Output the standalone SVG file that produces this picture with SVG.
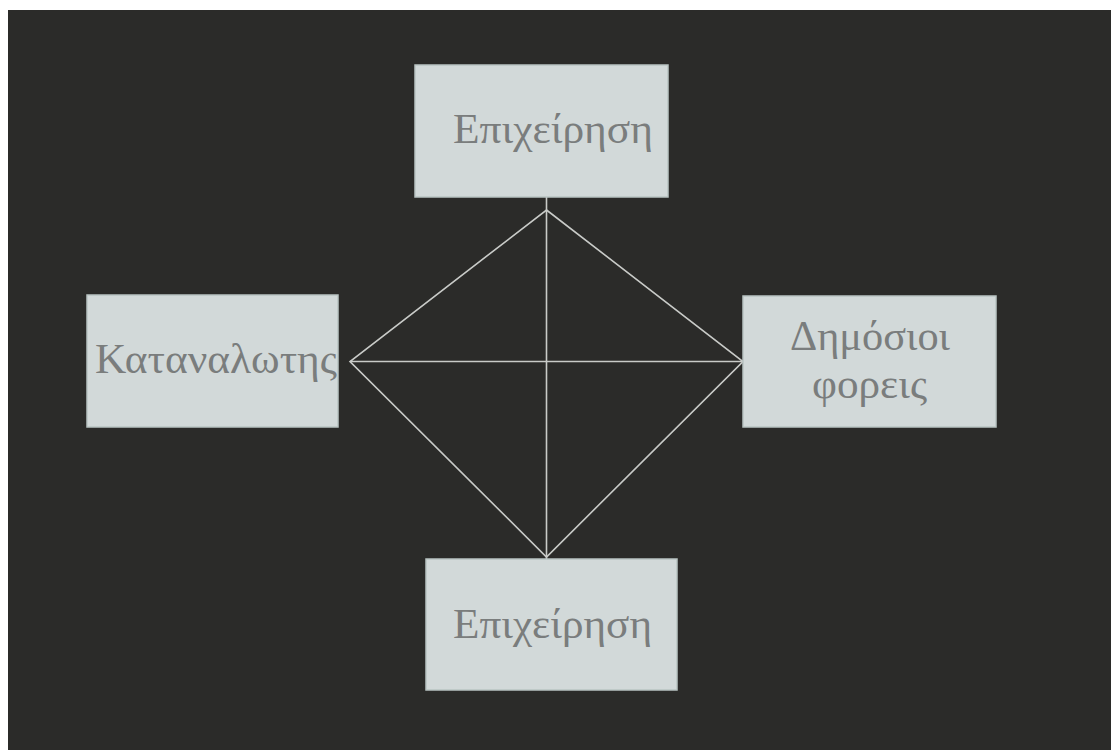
<svg xmlns="http://www.w3.org/2000/svg" width="1111" height="750" viewBox="0 0 1111 750">
<style>
.box{fill:#d2d9d9;stroke:#b9c4c2;stroke-width:1.5}
.lbl{font-family:"Liberation Serif","DejaVu Serif",serif;font-size:42px;fill:#7a7d7d;stroke:none}
.ln{stroke:#c9cbc8;stroke-width:1.6;fill:none}
</style>
<rect x="0" y="0" width="1111" height="750" fill="#ffffff"/>
<rect x="8" y="10" width="1103" height="740" fill="#2b2b29"/>
<g id="connectors">
<line class="ln" x1="546.5" y1="197" x2="546.5" y2="559"/>
<line class="ln" x1="350" y1="361.5" x2="743" y2="361.5"/>
<polygon class="ln" points="546.5,210 743,361.5 546.5,557 350,361.5"/>
</g>
<g id="top">
<rect class="box" x="415" y="65" width="253" height="132"/>
<text class="lbl" x="453" y="143" textLength="200" lengthAdjust="spacingAndGlyphs">Επιχείρηση</text>
</g>
<g id="left">
<rect class="box" x="87" y="295" width="251" height="132"/>
<text class="lbl" x="95" y="373" textLength="242" lengthAdjust="spacingAndGlyphs">Καταναλωτης</text>
</g>
<g id="right">
<rect class="box" x="743" y="296" width="253" height="131"/>
<text class="lbl" x="790" y="350" textLength="160" lengthAdjust="spacingAndGlyphs">Δημόσιοι</text>
<text class="lbl" x="812" y="398" textLength="115" lengthAdjust="spacingAndGlyphs">φορεις</text>
</g>
<g id="bottom">
<rect class="box" x="426" y="559" width="251" height="131"/>
<text class="lbl" x="453" y="638" textLength="199" lengthAdjust="spacingAndGlyphs">Επιχείρηση</text>
</g>
</svg>
